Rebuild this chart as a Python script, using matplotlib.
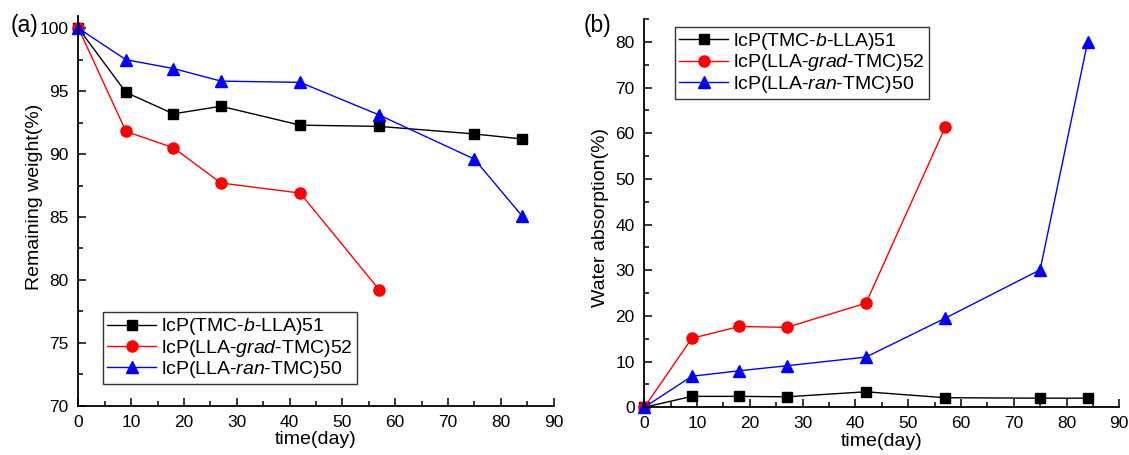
import matplotlib
matplotlib.use("Agg")
import matplotlib.pyplot as plt
from matplotlib.ticker import MultipleLocator

plt.rcParams['font.family'] = ['Liberation Sans', 'DejaVu Sans']
plt.rcParams['mathtext.fontset'] = 'custom'
plt.rcParams['mathtext.rm'] = 'Liberation Sans'
plt.rcParams['mathtext.it'] = 'Liberation Sans:italic'

# Degradation time points (days)
days_long = [0, 9, 18, 27, 42, 57, 75, 84]
days_short = [0, 9, 18, 27, 42, 57]

# (a) Remaining weight (%)
weight_b = [100, 94.9, 93.2, 93.8, 92.3, 92.2, 91.6, 91.2]
weight_grad = [100, 91.8, 90.5, 87.7, 86.9, 79.2]
weight_ran = [100, 97.5, 96.8, 95.8, 95.7, 93.1, 89.6, 85.1]

# (b) Water absorption (%)
water_b = [0, 2.4, 2.4, 2.3, 3.4, 2.1, 2.0, 2.0]
water_grad = [0, 15.1, 17.7, 17.5, 22.8, 61.3]
water_ran = [0, 6.8, 8.0, 9.1, 11.0, 19.5, 30.1, 80.0]

labels = [r'lcP(TMC-$\it{b}$-LLA)51',
          r'lcP(LLA-$\it{grad}$-TMC)52',
          r'lcP(LLA-$\it{ran}$-TMC)50']

fig = plt.figure(figsize=(11.29, 4.55), dpi=100)
ax1 = fig.add_axes([0.0695, 0.1084, 0.4208, 0.8571])
ax2 = fig.add_axes([0.5707, 0.1048, 0.4207, 0.8534])

styles = [dict(color='black', marker='s', ms=7),
          dict(color='red', marker='o', ms=8),
          dict(color='blue', marker='^', ms=8.5)]

ax1.plot(days_long, weight_b, lw=1, label=labels[0], **styles[0])
ax1.plot(days_short, weight_grad, lw=1, label=labels[1], **styles[1])
ax1.plot(days_long, weight_ran, lw=1, label=labels[2], **styles[2])

ax2.plot(days_long, water_b, lw=1, label=labels[0], **styles[0])
ax2.plot(days_short, water_grad, lw=1, label=labels[1], **styles[1])
ax2.plot(days_long, water_ran, lw=1, label=labels[2], **styles[2])

ax1.set_xlim(0, 90)
ax1.set_ylim(70, 101)
ax1.yaxis.set_major_locator(MultipleLocator(5))
ax1.yaxis.set_minor_locator(MultipleLocator(2.5))
ax1.set_ylabel('Remaining weight(%)', fontsize=14)
ax1.yaxis.set_label_coords(-0.074, 0.535)

ax2.set_xlim(0, 90)
ax2.set_ylim(0, 85)
ax2.yaxis.set_major_locator(MultipleLocator(10))
ax2.yaxis.set_minor_locator(MultipleLocator(5))
ax2.set_ylabel('Water absorption(%)', fontsize=14)
ax2.yaxis.set_label_coords(-0.074, 0.49)

for ax in (ax1, ax2):
    ax.xaxis.set_major_locator(MultipleLocator(10))
    ax.xaxis.set_minor_locator(MultipleLocator(5))
    ax.set_xlabel('time(day)', fontsize=14, labelpad=1)
    ax.spines['top'].set_visible(False)
    ax.spines['right'].set_visible(False)
    for s in ('left', 'bottom'):
        ax.spines[s].set_linewidth(1.3)
    ax.tick_params(which='both', direction='in', labelsize=12.5, width=1.1)
    ax.tick_params(axis='y', which='both', pad=7)
    ax.tick_params(axis='x', which='both', pad=6.5)
    ax.tick_params(which='major', length=6)
    ax.tick_params(which='minor', length=3.5)
    for lbl in ax.get_xticklabels() + ax.get_yticklabels():
        lbl.set_clip_on(False)
    for line in ax.get_lines():
        line.set_clip_on(False)

leg_kw = dict(fontsize=14, frameon=True, fancybox=False, edgecolor='black',
              handlelength=2.55, handletextpad=0.25, borderpad=0.2,
              labelspacing=0.02, borderaxespad=0)
leg1 = ax1.legend(loc='lower left', bbox_to_anchor=(0.0516, 0.0556), **leg_kw)
leg2 = ax2.legend(loc='upper left', bbox_to_anchor=(0.0646, 0.979), **leg_kw)
for leg in (leg1, leg2):
    leg.get_frame().set_linewidth(1.0)

fig.text(0.009, 0.943, '(a)', fontsize=16.5, va='center')
fig.text(0.517, 0.943, '(b)', fontsize=16.5, va='center')

fig.savefig('out.png', dpi=100)
